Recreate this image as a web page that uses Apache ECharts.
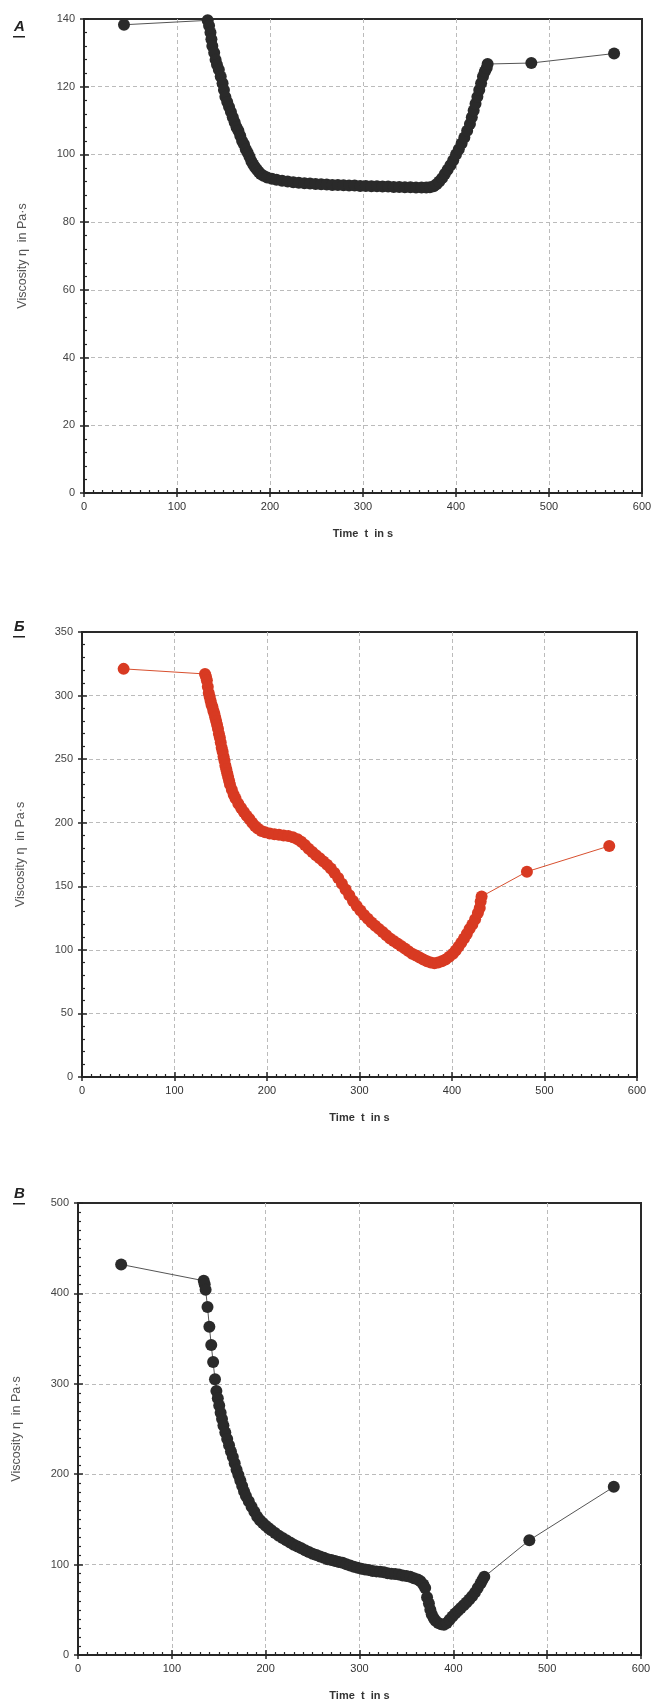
<!DOCTYPE html>
<html lang="en">
<head>
    <meta charset="UTF-8">
    <title>Viscosity</title>
    <script src="https://cdn.jsdelivr.net/npm/echarts@6/dist/echarts.min.js"></script>
    <style>
    body { margin: 0; background: #fff; }
    #chart { width: 665px; height: 1703px; }
    </style>
</head>
<body>
<div id="chart"></div>
<script>
    // axis ticks
    var timeTicks = [0, 100, 200, 300, 400, 500, 600];
    var yMaxA = 140, yStepA = 20;
    var yMaxB = 350, yStepB = 50;
    var yMaxC = 500, yStepC = 100;

    // panel A
    var tA = [43, 133, 134.5, 136, 137, 138, 140, 141.5, 143, 145, 147, 149, 150.5, 152, 154, 156, 158, 160, 162, 164, 166, 168, 170, 172, 174, 176, 178, 180, 182, 184, 186, 188, 190, 193, 197, 202, 207, 213, 219, 225, 231, 237, 243, 249, 255, 261, 267, 273, 279, 285, 291, 297, 303, 309, 315, 321, 327, 333, 339, 345, 351, 357, 363, 368, 372, 376, 379, 382, 385, 388, 391, 394, 397, 400, 403, 406, 409, 412, 415, 417, 419, 421, 423, 425, 427, 429, 431, 433, 434, 481, 570];
    var vA = [138.3, 139.6, 138, 136, 134, 132, 130, 128, 126.5, 125, 123, 121, 119, 117, 115.5, 114, 112.5, 111, 109.5, 108, 107, 105.5, 104, 103, 101.5, 100.5, 99.3, 98, 97, 96.2, 95.5, 94.8, 94.2, 93.7, 93.2, 92.8, 92.5, 92.2, 92, 91.8, 91.6, 91.5, 91.4, 91.3, 91.2, 91.1, 91, 91, 90.9, 90.8, 90.8, 90.7, 90.7, 90.6, 90.6, 90.5, 90.5, 90.4, 90.4, 90.3, 90.3, 90.2, 90.2, 90.2, 90.3, 90.6, 91.2, 92, 93, 94.2, 95.5, 96.8, 98.3, 100, 101.5, 103.2, 105, 107, 109, 111, 113, 115, 117, 119, 121, 123, 124.5, 125.5, 126.7, 127, 129.8];

    // panel Б
    var tB = [45, 133, 134, 135, 136, 137, 138, 139, 140, 141, 142, 143, 144, 145, 146, 147, 148, 149, 150, 151, 152, 153, 154, 155, 156, 157, 158, 159, 160, 162, 164, 166, 169, 172, 175, 178, 181, 184, 187, 190, 194, 198, 203, 208, 213, 218, 223, 228, 233, 237, 241, 245, 249, 253, 257, 261, 265, 269, 273, 277, 281, 285, 289, 293, 297, 301, 305, 309, 313, 317, 321, 325, 329, 333, 337, 341, 345, 349, 353, 357, 361, 365, 369, 373, 377, 381, 385, 389, 393, 397, 401, 404, 407, 410, 413, 416, 419, 422, 425, 428, 430, 431, 432, 481, 570];
    var vB = [321, 317, 315, 312, 307, 302, 299, 296, 293, 291, 288, 286, 283, 280, 277, 274, 270, 267, 263, 259, 256, 252, 249, 245, 242, 239, 236, 233, 230, 226, 222, 219, 215, 211.5, 208.5, 205.5, 203, 200, 197.5, 195.5, 193.5, 192.5, 191.5, 191, 190.5, 190, 189.5, 188.5, 187, 185, 182.5, 179.5, 177, 174.5, 172, 169.5, 167, 164, 160.5, 156.5, 152, 147.5, 143, 138.5, 134.5, 131, 127.5, 124.5, 121.5, 119, 116.5, 114, 111.5, 109, 107, 105, 103, 101, 99, 97, 95.5, 94, 92.5, 91, 90, 89.5, 90, 91, 92.5, 94.5, 97, 99.5, 102.5, 105.5, 109, 112.5, 116.5, 120, 124, 129, 133, 138, 142, 161.5, 181.7];

    // panel В
    var tC = [46, 134, 135, 136, 138, 140, 142, 144, 146, 147.5, 149, 150.5, 152, 153.5, 155, 157, 159, 161, 163, 165, 167, 169, 171, 173, 175, 177, 179, 182, 185, 188, 191, 194, 197, 200, 203, 206, 210, 214, 218, 222, 226, 230, 234, 238, 242, 246, 250, 254, 258, 262, 266, 270, 274, 278, 282, 286, 290, 294, 298, 302, 306, 310, 314, 318, 322, 326, 330, 334, 338, 342, 346, 350, 354, 358, 362, 365, 368, 370, 372, 374, 375.5, 377, 379, 381, 384, 387, 390, 393, 396, 399, 402, 405, 408, 411, 414, 417, 420, 423, 426, 429, 431, 433, 481, 571];
    var vC = [432, 414, 410, 404, 385, 363, 343, 324, 305, 292, 284, 276, 268, 261, 254, 246, 239, 232, 225, 219, 212, 205, 199, 193, 187, 181, 176, 170, 164, 158.5, 153, 149, 146, 143, 140.5, 138, 135, 132, 129.5, 127, 124.5, 122, 120, 118, 116, 114, 112, 110.5, 109, 107.5, 106, 105, 104, 103, 102, 100.5, 99, 97.5, 96.5, 95.5, 94.5, 94, 93, 92.5, 92, 91.5, 90.5, 90, 89.5, 89, 88, 87.5, 86.5, 85, 83.5, 81.5, 78, 74, 64, 57, 50, 45, 41, 38, 35.5, 34, 33.5, 35.5, 39, 42.5, 46, 49, 52, 55, 58, 61.5, 65, 69, 74, 79, 83, 86.5, 127, 186];

    function pairs(t, v) {
        return t.map(function (x, i) { return [x, v[i]]; });
    }

    var grids = [
        {left: 84, top: 19, width: 558, height: 474},
        {left: 82, top: 632, width: 555, height: 445},
        {left: 78, top: 1203, width: 563, height: 452}
    ];
    var yMax = [yMaxA, yMaxB, yMaxC];
    var yStep = [yStepA, yStepB, yStepC];
    var yMinor = [5, 5, 10];
    var letters = ['А', 'Б', 'В'];
    var letterY = [19, 619, 1186];

    var dark = '#262626';
    var xAxes = [], yAxes = [], gridList = [], graphics = [];

    for (var g = 0; g < 3; g++) {
        gridList.push({
            left: grids[g].left, top: grids[g].top,
            width: grids[g].width, height: grids[g].height,
            show: true, borderColor: '#2a2a2a', borderWidth: 2, backgroundColor: '#fff'
        });
        // main x axis
        xAxes.push({
            gridIndex: g, type: 'value', min: timeTicks[0], max: timeTicks[timeTicks.length - 1], interval: 100,
            name: 'Time  t  in s', nameLocation: 'middle', nameGap: 35,
            nameTextStyle: {fontFamily: 'Liberation Sans', fontSize: 11, fontWeight: 'bold', color: '#333'},
            axisLine: {lineStyle: {color: dark, width: 2}},
            axisTick: {inside: true, length: 5, lineStyle: {color: dark, width: 1.5}},
            minorTick: {show: true, splitNumber: 10, length: 3, lineStyle: {color: dark, width: 1.2}},
            axisLabel: {fontFamily: 'Liberation Sans', fontSize: 11, color: '#333', margin: 8},
            splitLine: {showMinLine: false, showMaxLine: false, lineStyle: {color: '#bbb', type: [4, 3], width: 1}}
        });
        // outside half of major ticks
        xAxes.push({
            gridIndex: g, type: 'value', min: 0, max: 600, interval: 100, position: 'bottom',
            axisLine: {show: false}, axisLabel: {show: false}, splitLine: {show: false},
            axisTick: {inside: false, length: 4, lineStyle: {color: dark, width: 1.5}}
        });
        yAxes.push({
            gridIndex: g, type: 'value', min: 0, max: yMax[g], interval: yStep[g],
            name: 'Viscosity η  in Pa·s', nameLocation: 'middle', nameGap: 55,
            nameTextStyle: {fontFamily: 'Liberation Sans', fontSize: 12.5, color: '#555'},
            axisLine: {lineStyle: {color: dark, width: 2}},
            axisTick: {inside: true, length: 5, lineStyle: {color: dark, width: 1.5}},
            minorTick: {show: true, splitNumber: yMinor[g], length: 3, lineStyle: {color: dark, width: 1.2}},
            axisLabel: {fontFamily: 'Liberation Sans', fontSize: 11, color: '#444', margin: 9},
            splitLine: {showMinLine: false, showMaxLine: false, lineStyle: {color: '#bbb', type: [4, 3], width: 1}}
        });
        yAxes.push({
            gridIndex: g, type: 'value', min: 0, max: yMax[g], interval: yStep[g], position: 'left',
            axisLine: {show: false}, axisLabel: {show: false}, splitLine: {show: false},
            axisTick: {inside: false, length: 4, lineStyle: {color: dark, width: 1.5}}
        });
        graphics.push({
            type: 'text', left: 14, top: letterY[g],
            style: {text: letters[g], fontFamily: 'Liberation Sans', fontSize: 15, fontWeight: 'bold',
                fontStyle: 'italic', fill: '#222'}
        });
        graphics.push({
            type: 'rect', left: 13, top: letterY[g] + 17,
            shape: {width: 12, height: 1.5}, style: {fill: '#222'}
        });
    }

    var seriesData = [pairs(tA, vA), pairs(tB, vB), pairs(tC, vC)];
    var markColor = ['#2a2a2a', '#d83a22', '#2a2a2a'];
    var lineColor = ['#555', '#d8502f', '#555'];
    var markSize = [12, 12, 12];
    var series = [];
    for (var s = 0; s < 3; s++) {
        series.push({
            type: 'line', xAxisIndex: s * 2, yAxisIndex: s * 2,
            data: seriesData[s], symbol: 'circle', symbolSize: markSize[s],
            itemStyle: {color: markColor[s]},
            lineStyle: {color: lineColor[s], width: 1},
            animation: false
        });
    }

    var myChart = echarts.init(document.getElementById('chart'));
    myChart.setOption({
        animation: false,
        grid: gridList,
        xAxis: xAxes,
        yAxis: yAxes,
        graphic: graphics,
        series: series
    });
</script>
</body>
</html>
